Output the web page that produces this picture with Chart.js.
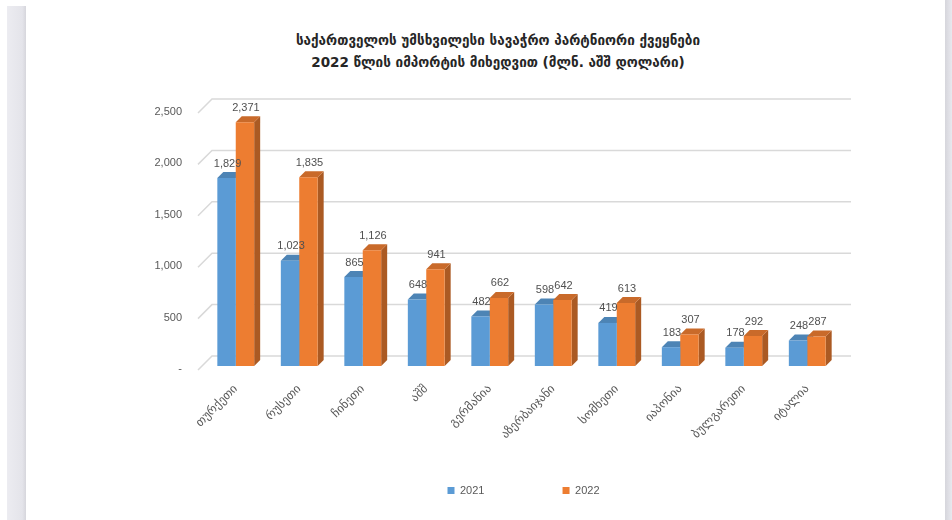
<!DOCTYPE html>
<html lang="ka">
<head>
    <meta charset="UTF-8">
    <title>სავაჭრო პარტნიორები</title>
    <script src="https://cdn.jsdelivr.net/npm/chart.js"></script>
    <style>
        html, body {
            margin: 0;
            padding: 0;
            background: #fff;
            width: 952px;
            height: 520px;
            overflow: hidden;
        }
        .strip-left {
            position: absolute;
            left: 7px; top: 6px;
            width: 19px; height: 514px;
            background: linear-gradient(90deg, #ececf1, #e4e4ea 80%, #d6d6dc);
        }
        .strip-right {
            position: absolute;
            left: 945px; top: 0;
            width: 7px; height: 520px;
            background: linear-gradient(90deg, #d6d6dc, #e8e8ee);
        }
        .satauri {
            position: absolute;
            left: 198px; top: 29px;
            width: 600px;
            text-align: center;
            font-family: "DejaVu Sans", sans-serif;
            font-weight: bold;
            font-size: 13.5px;
            line-height: 22px;
            color: #262626;
        }
        .wrap {
            position: absolute;
            left: 0; top: 0;
            width: 952px; height: 520px;
        }
    </style>
</head>
<body>
    <div class="strip-left"></div>
    <div class="strip-right"></div>
    <div class="satauri" id="satauri"></div>
    <div class="wrap"><canvas id="grafiki"></canvas></div>

    <script>
        const qveynebi = ['თურქეთი', 'რუსეთი', 'ჩინეთი', 'აშშ', 'გერმანია', 'აზერბაიჯანი', 'სომხეთი', 'იაპონია', 'ბულგარეთი', 'იტალია'];
        const import2021 = [1829, 1023, 865, 648, 482, 598, 419, 183, 178, 248];
        const import2022 = [2371, 1835, 1126, 941, 662, 642, 613, 307, 292, 287];
        const yTicks = [0, 500, 1000, 1500, 2000, 2500];
        const satauri = ['საქართველოს უმსხვილესი სავაჭრო პარტნიორი ქვეყნები', '2022 წლის იმპორტის მიხედვით (მლნ. აშშ დოლარი)'];

        document.getElementById('satauri').innerHTML = satauri.join('<br>');

        const DEPTH = 6;
        const fmt = v => v.toLocaleString('en-US');

        // ფერის გამუქება გვერდითი წახნაგებისთვის
        function shade(hex, k) {
            const n = parseInt(hex.slice(1), 16);
            const r = Math.round(((n >> 16) & 255) * k);
            const g = Math.round(((n >> 8) & 255) * k);
            const b = Math.round((n & 255) * k);
            return `rgb(${r},${g},${b})`;
        }

        const bade = {
            id: 'bade',
            beforeDatasetsDraw(chart) {
                const ctx = chart.ctx;
                const y = chart.scales.y;
                const area = chart.chartArea;
                ctx.save();
                ctx.strokeStyle = '#d9d9d9';
                ctx.lineWidth = 1.5;
                yTicks.forEach(v => {
                    const py = y.getPixelForValue(v);
                    ctx.beginPath();
                    ctx.moveTo(area.left - 6, py + 4);
                    ctx.lineTo(area.left + 8, py - 10);
                    ctx.lineTo(area.right + 12, py - 10);
                    ctx.stroke();
                });

                // სვეტების გვერდითი და ზედა წახნაგები
                chart.data.datasets.forEach((ds, di) => {
                    const meta = chart.getDatasetMeta(di);
                    meta.data.forEach(bar => {
                        const half = bar.width / 2;
                        const x0 = bar.x - half, x1 = bar.x + half;
                        const top = bar.y, base = bar.base;
                        ctx.fillStyle = shade(ds.backgroundColor, 0.72);
                        ctx.beginPath();
                        ctx.moveTo(x1, top);
                        ctx.lineTo(x1 + DEPTH, top - DEPTH);
                        ctx.lineTo(x1 + DEPTH, base - DEPTH);
                        ctx.lineTo(x1, base);
                        ctx.closePath();
                        ctx.fill();
                        ctx.fillStyle = shade(ds.backgroundColor, 0.85);
                        ctx.beginPath();
                        ctx.moveTo(x0, top);
                        ctx.lineTo(x0 + DEPTH, top - DEPTH);
                        ctx.lineTo(x1 + DEPTH, top - DEPTH);
                        ctx.lineTo(x1, top);
                        ctx.closePath();
                        ctx.fill();
                    });
                });
                ctx.restore();
            },
            afterDatasetsDraw(chart) {
                const ctx = chart.ctx;
                ctx.save();
                ctx.font = '11px "Liberation Sans", sans-serif';
                ctx.fillStyle = '#505050';
                ctx.textAlign = 'center';
                ctx.textBaseline = 'bottom';
                chart.data.datasets.forEach((ds, di) => {
                    const meta = chart.getDatasetMeta(di);
                    meta.data.forEach((bar, i) => {
                        ctx.fillText(fmt(ds.data[i]), bar.x + 1, bar.y - DEPTH - 3);
                    });
                });
                ctx.restore();
            }
        };

        new Chart(document.getElementById('grafiki').getContext('2d'), {
            type: 'bar',
            data: {
                labels: qveynebi,
                datasets: [
                    {
                        label: '2021',
                        data: import2021,
                        backgroundColor: '#5b9bd5',
                        barPercentage: 1,
                        categoryPercentage: 0.58
                    },
                    {
                        label: '2022',
                        data: import2022,
                        backgroundColor: '#ed7d31',
                        barPercentage: 1,
                        categoryPercentage: 0.58
                    }
                ]
            },
            options: {
                responsive: true,
                maintainAspectRatio: false,
                animation: false,
                layout: {
                    padding: { left: 144, right: 49, top: 109, bottom: 14 }
                },
                plugins: {
                    title: { display: false },
                    legend: {
                        position: 'bottom',
                        labels: {
                            boxWidth: 7,
                            boxHeight: 7,
                            padding: 20,
                            color: '#595959',
                            font: { family: '"Liberation Sans"', size: 11 },
                            // პირველი ელემენტის შემდეგ მეტი სივრცე
                            generateLabels: chart => {
                                const items = Chart.defaults.plugins.legend.labels.generateLabels(chart);
                                items[0].text += '\u00a0'.repeat(19);
                                return items;
                            }
                        }
                    },
                    tooltip: { enabled: false }
                },
                scales: {
                    x: {
                        grid: { display: false },
                        border: { display: false },
                        ticks: {
                            maxRotation: 45,
                            minRotation: 45,
                            padding: 8,
                            color: '#595959',
                            font: { family: '"DejaVu Sans"', size: 12 }
                        },
                        afterFit: s => { s.height = 99; }
                    },
                    y: {
                        min: 0,
                        max: 2500,
                        grid: { display: false },
                        border: { display: false },
                        ticks: {
                            stepSize: 500,
                            padding: 14,
                            labelOffset: 3,
                            color: '#595959',
                            font: { family: '"Liberation Sans"', size: 11 },
                            callback: v => v === 0 ? '-' : fmt(v)
                        },
                        afterFit: s => { s.width = 60; }
                    },
                    // მარჯვენა ცარიელი ადგილი (ლეგენდის ცენტრისთვის)
                    yR: {
                        position: 'right',
                        display: true,
                        grid: { display: false },
                        border: { display: false },
                        ticks: { display: false },
                        afterFit: s => { s.width = 64; }
                    }
                }
            },
            plugins: [bade]
        });
    </script>
</body>
</html>
